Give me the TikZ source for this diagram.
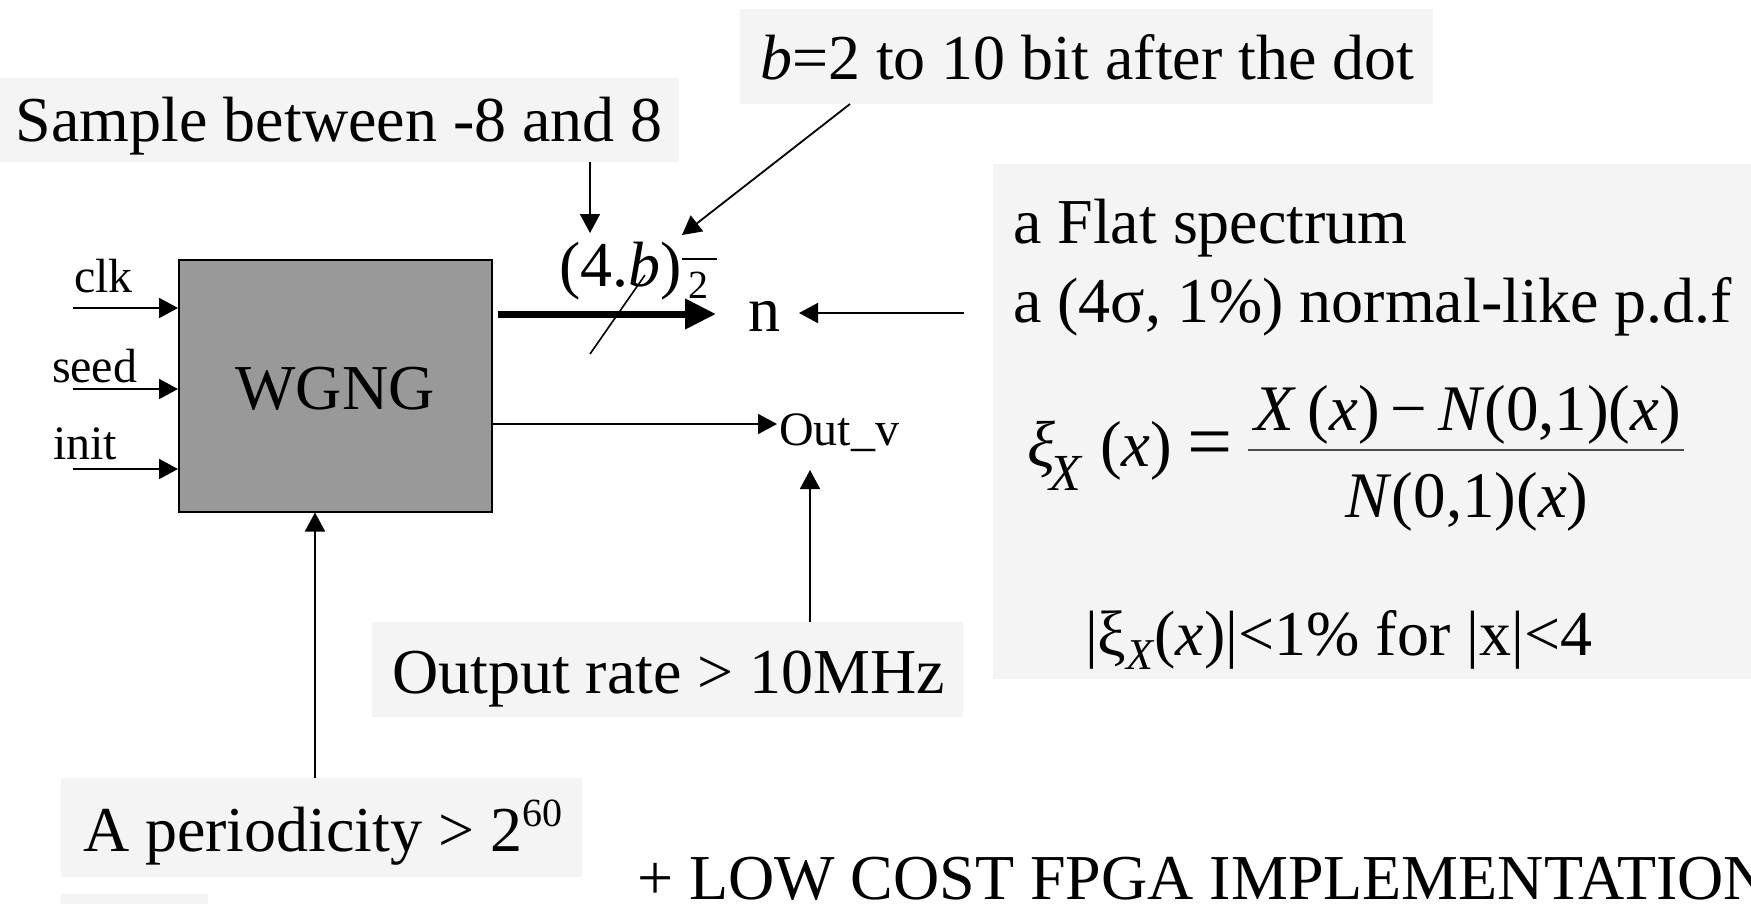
\documentclass[tikz,border=0pt]{standalone}
\usepackage{fontspec}
\setmainfont{Liberation Serif}
\usetikzlibrary{arrows.meta}
\definecolor{boxgray}{HTML}{F4F4F4}
\definecolor{wgnggray}{HTML}{999999}
\newcommand{\bigf}{\fontsize{64}{76}\selectfont}
\newcommand{\midf}{\fontsize{48}{56}\selectfont}
\newcommand{\fmf}{\fontsize{65}{78}\selectfont}
\begin{document}
\begin{tikzpicture}[x=1pt,y=-1pt,
  lbox/.style={fill=boxgray, draw=none, inner sep=0pt, outer sep=0pt, anchor=north west},
  txt/.style={inner sep=0pt, outer sep=0pt, anchor=base west, font=\bigf},
  stxt/.style={txt, font=\midf},
  arr/.style={line width=1.8pt, -{Triangle[length=19pt,width=20pt]}},
  thickarr/.style={line width=7pt, -{Triangle[length=31pt,width=29pt]}},
]
\useasboundingbox (0,0) rectangle (1751,903);
\clip (0,0) rectangle (1751,903);
% light boxes
\node[lbox, minimum width=679pt, minimum height=84pt] (sampleBox) at (0,78) {};
\node[lbox, minimum width=693pt, minimum height=95pt] (bBox) at (740,9) {};
\node[lbox, minimum width=770pt, minimum height=515pt] (panel) at (993,164) {};
\node[lbox, minimum width=591pt, minimum height=95pt] (rateBox) at (372,622) {};
\node[lbox, minimum width=521pt, minimum height=99pt] (perBox) at (61,778) {};
\node[lbox, minimum width=147pt, minimum height=12pt] (stub) at (61,894) {};
% WGNG block
\node[draw=black, line width=1.5pt, fill=wgnggray, minimum width=313pt, minimum height=252pt, inner sep=0pt, anchor=north west] (wgng) at (178,259) {};
\node[txt, anchor=base] (wgngtxt) at (335,409) {WGNG};
% texts
\node[txt] (sampleTxt) at (16,141) {Sample between -8 and 8};
\node[txt] (bTxt) at (760,79) {\textit{b}=2 to 10 bit after the dot};
\node[stxt] (clk) at (74,292) {clk};
\node[stxt] (seed) at (52,382) {seed};
\node[stxt] (init) at (53,459) {init};
\node[txt] (bw) at (559,286) {(4.\textit{b})};
\node[txt, font=\fontsize{40}{44}\selectfont] (two) at (688,298) {2};
\coordinate (barL) at (682,259);
\coordinate (barR) at (717,259);
\draw[line width=1.5pt] (barL) -- (barR);
\node[txt] (n) at (748,331) {n};
\node[stxt] (outv) at (779,445) {Out\_v};
\node[txt] (flat) at (1013,243) {a Flat spectrum};
\node[txt] (pdf) at (1013,322) {a (4σ, 1\%) normal-like p.d.f};
% formula
\node[txt, font=\fmf] (xi) at (1027,466) {\textit{ξ}};
\node[txt, font=\fontsize{52}{56}\selectfont] (xisub) at (1049,490) {\textit{X}};
\node[txt, font=\fmf] (xarg) at (1100,466) {(\textit{x})};
\node[txt, font=\fontsize{80}{90}\selectfont] (eq) at (1187,468) {=};
\coordinate (fracL) at (1248,450);
\coordinate (fracR) at (1684,450);
\draw[line width=2pt, draw=black!70] (fracL) -- (fracR);
\node[txt, anchor=base, font=\fmf] (num) at (1468,430) {\textit{X}\,(\textit{x})\,−\,\textit{N}(0,1)(\textit{x})};
\node[txt, anchor=base, font=\fmf] (den) at (1467,517) {\textit{N}(0,1)(\textit{x})};
\node[txt] (crit) at (1085,655) {|ξ\raisebox{-0.22em}{\fontsize{44}{48}\selectfont\textit{X}}(\textit{x})|<1\% for |x|<4};
\node[txt] (rate) at (392,693) {Output rate > 10MHz};
\node[txt] (per) at (83,851) {A periodicity > 2\raisebox{0.38em}{\fontsize{40}{44}\selectfont 60}};
\node[txt] (lowcost) at (637,899) {+ LOW COST FPGA IMPLEMENTATION};
% connectors
\coordinate (clkS) at (73,308);
\coordinate (seedS) at (73,389);
\coordinate (initS) at (73,469);
\draw[arr] (clkS) -- (clkS -| wgng.west);
\draw[arr] (seedS) -- (seedS -| wgng.west);
\draw[arr] (initS) -- (initS -| wgng.west);
\coordinate (nTip) at (716,314);
\draw[thickarr] (wgng.east |- nTip) ++(5,0) -- (nTip);
\coordinate (slashA) at (590,354);
\coordinate (slashB) at (645,275);
\draw[line width=1.6pt] (slashA) -- (slashB);
\coordinate (nR) at (964,313);
\coordinate (nRTip) at (799,313);
\draw[arr] (nR) -- (nRTip);
\coordinate (outTip) at (777,424);
\draw[arr] (wgng.east |- outTip) -- (outTip);
\coordinate (rateTip) at (810,470);
\draw[arr] (rateBox.north -| rateTip) -- (rateTip);
\coordinate (perX) at (315,778);
\draw[arr] (perBox.north -| perX) -- (perX |- wgng.south);
\coordinate (sampTip) at (590,233);
\draw[arr] (sampleBox.south -| sampTip) -- (sampTip);
\coordinate (bStart) at (850,104);
\coordinate (bTip) at (682,235);
\draw[arr] (bBox.south -| bStart) -- (bTip);
\end{tikzpicture}
\end{document}
